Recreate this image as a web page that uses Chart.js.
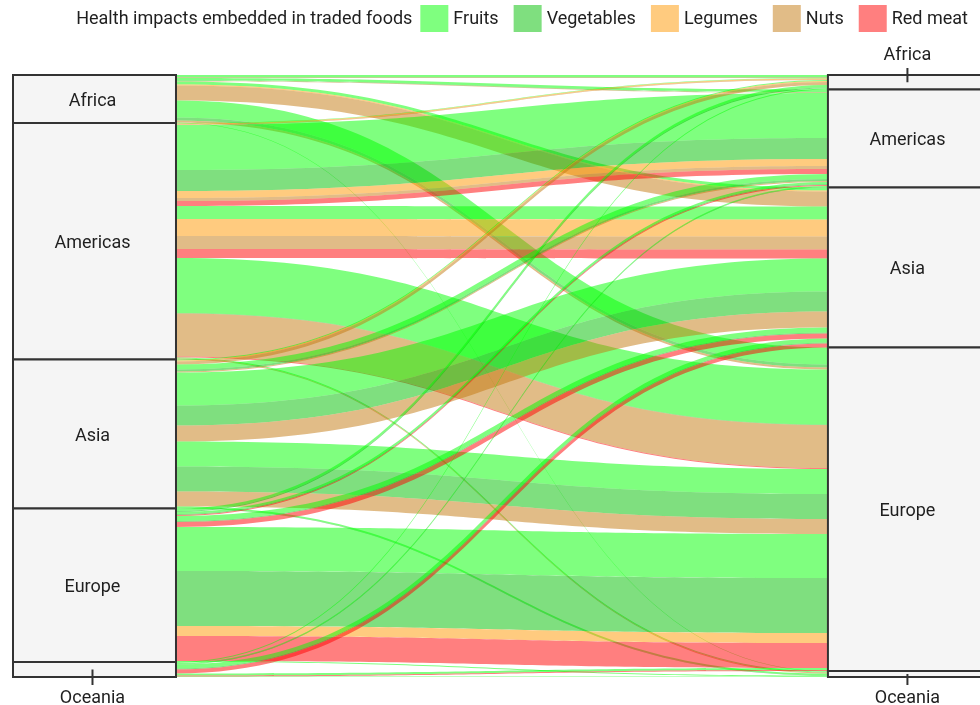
<!DOCTYPE html>
<html>
<head>
<meta charset="utf-8">
<title>Health impacts embedded in traded foods</title>
<script src="https://cdn.jsdelivr.net/npm/chart.js@4.4.1/dist/chart.umd.min.js"></script>
<style>
  html, body { margin: 0; padding: 0; background: #ffffff; }
  #wrap { width: 980px; height: 705px; }
</style>
</head>
<body>
<div id="wrap"><canvas id="chart" width="980" height="705"></canvas></div>
<script>
// Regions appear on both axes: exporters on the left, importers on the right
const regions = ['Africa', 'Americas', 'Asia', 'Europe', 'Oceania'];
const foods = ['Fruits', 'Vegetables', 'Legumes', 'Nuts', 'Red meat'];
const foodColors = [
  'rgba(0,255,0,0.5)',
  'rgba(0,192,0,0.5)',
  'rgba(255,152,0,0.5)',
  'rgba(195,122,15,0.5)',
  'rgba(255,0,0,0.5)'
];
const legendTitle = 'Health impacts embedded in traded foods';

// Rows: exporting region, columns: importing region (both in `regions` order)
const fruits = [
  [2,   2.5, 3,  17, 0.5],
  [0.5, 45,  13, 55, 1],
  [1,   5,   33, 25, 1.5],
  [2.5, 2,   5,  44, 1],
  [1,   1,   4,  2,  0.5]
];
const vegetables = [
  [0.5, 0.5, 0,  3,   0],
  [0,   21,  0,  0.5, 0],
  [0,   2,   20, 25,  0.5],
  [1,   1,   1,  55,  0],
  [0,   0.5, 1,  0,   0]
];
const legumes = [
  [0, 0, 1,  0,  0],
  [1, 7, 17, 0,  0],
  [1, 0, 0,  0,  0],
  [0, 0, 0,  10, 0],
  [0, 0, 0,  0,  0]
];
const nuts = [
  [0.5, 0.5, 15, 2,  0],
  [0.5, 3,   13, 43, 1],
  [3,   1,   16, 15, 0],
  [0,   0,   0,  0,  0],
  [0,   0,   0,  0,  0]
];
const redMeat = [
  [0, 0, 0, 0,  0],
  [0, 5, 9, 1,  0],
  [0, 0, 0, 0,  0],
  [0, 1, 5, 25, 0],
  [0, 0, 4, 1,  0]
];

const byFood = [fruits, vegetables, legumes, nuts, redMeat];

// Axis positions on the x scale: each stratum column is one unit wide
const leftAxis = [0, 1];
const rightAxis = [5, 6];

// Flat list of every exporter -> importer -> food flow
const flows = [];
regions.forEach((_, o) => regions.forEach((_, d) => foods.forEach((_, f) => {
  const v = byFood[f][o][d];
  if (v > 0) flows.push({ o, d, f, v });
})));
const total = flows.reduce((s, fl) => s + fl.v, 0);

// Stack the flows inside each stratum: left grouped by importer, right by exporter
function stackSide(groupKey, innerKey) {
  const strata = [];
  let cursor = 0;
  regions.forEach((_, r) => {
    const start = cursor;
    regions.forEach((_, k) => foods.forEach((_, f) => {
      flows.filter(fl => fl[groupKey] === r && fl[innerKey] === k && fl.f === f).forEach(fl => {
        fl[groupKey + 'Pos'] = [cursor, cursor + fl.v];
        cursor += fl.v;
      });
    }));
    strata.push({ name: regions[r], from: start, to: cursor });
  });
  return strata;
}
const leftStrata = stackSide('o', 'd');
const rightStrata = stackSide('d', 'o');

const FONT = 'Roboto, "Liberation Sans", sans-serif';

const alluvialPlugin = {
  id: 'alluvial',
  beforeDatasetsDraw(chart) {
    const { ctx, scales: { x, y } } = chart;
    const xa = x.getPixelForValue(leftAxis[1]);
    const xb = x.getPixelForValue(rightAxis[0]);
    const xm = (xa + xb) / 2;

    ctx.save();
    flows.forEach(fl => {
      const a0 = y.getPixelForValue(fl.oPos[0]);
      const a1 = y.getPixelForValue(fl.oPos[1]);
      const b0 = y.getPixelForValue(fl.dPos[0]);
      const b1 = y.getPixelForValue(fl.dPos[1]);
      ctx.beginPath();
      ctx.moveTo(xa, a0);
      ctx.bezierCurveTo(xm, a0, xm, b0, xb, b0);
      ctx.lineTo(xb, b1);
      ctx.bezierCurveTo(xm, b1, xm, a1, xa, a1);
      ctx.closePath();
      ctx.fillStyle = foodColors[fl.f];
      ctx.fill();
    });

    const drawStrata = (strata, axis) => {
      const x0 = x.getPixelForValue(axis[0]);
      const x1 = x.getPixelForValue(axis[1]);
      const cx = (x0 + x1) / 2 - 2;
      strata.forEach(s => {
        const t = y.getPixelForValue(s.from);
        const b = y.getPixelForValue(s.to);
        ctx.fillStyle = '#f5f5f5';
        ctx.fillRect(x0, t, x1 - x0, b - t);
        ctx.strokeStyle = '#333333';
        ctx.lineWidth = 2;
        ctx.strokeRect(x0, t, x1 - x0, b - t);
      });
      strata.forEach((s, i) => {
        const t = y.getPixelForValue(s.from);
        const b = y.getPixelForValue(s.to);
        const mid = (t + b) / 2;
        ctx.fillStyle = '#1f1f1f';
        ctx.font = '18px ' + FONT;
        ctx.textAlign = 'center';
        ctx.textBaseline = 'middle';
        if (b - t >= 25) {
          ctx.fillText(s.name, cx, mid + 2);
        } else {
          // small strata get their label outside with a short leader tick
          const above = i === 0;
          const edge = above ? y.getPixelForValue(0) - 7 : y.getPixelForValue(total) + 8;
          ctx.strokeStyle = '#333333';
          ctx.lineWidth = 2;
          ctx.beginPath();
          ctx.moveTo(cx, mid);
          ctx.lineTo(cx, edge);
          ctx.stroke();
          ctx.fillText(s.name, cx, above ? edge - 13 : edge + 13);
        }
      });
    };
    drawStrata(leftStrata, leftAxis);
    drawStrata(rightStrata, rightAxis);
    ctx.restore();
  },
  afterDraw(chart) {
    // Single-row legend with its title inline, right aligned
    const { ctx } = chart;
    const items = chart.data.datasets;
    ctx.save();
    ctx.font = '18px ' + FONT;
    ctx.textBaseline = 'middle';
    ctx.textAlign = 'left';
    const boxW = 28, boxH = 27, boxTop = 5, textGap = 5, itemGap = 15;
    const cy = boxTop + boxH / 2 + 1;
    let xr = 968;
    for (let i = items.length - 1; i >= 0; i--) {
      const w = ctx.measureText(items[i].label).width;
      const tx = xr - w;
      const bx = tx - textGap - boxW;
      ctx.fillStyle = items[i].backgroundColor;
      ctx.fillRect(bx, boxTop, boxW, boxH);
      ctx.fillStyle = '#1f1f1f';
      ctx.fillText(items[i].label, tx, cy);
      xr = bx - itemGap;
    }
    ctx.textAlign = 'right';
    ctx.fillText(legendTitle, xr + itemGap - 8, cy);
    ctx.restore();
  }
};

new Chart(document.getElementById('chart'), {
  type: 'scatter',
  data: {
    datasets: foods.map((name, i) => ({
      label: name,
      data: [],
      backgroundColor: foodColors[i]
    }))
  },
  options: {
    responsive: false,
    devicePixelRatio: 1,
    animation: false,
    layout: { padding: { left: 13, right: 0, top: 75, bottom: 28 } },
    scales: {
      x: { type: 'linear', min: 0, max: 5.933, display: false },
      y: { type: 'linear', min: 0, max: total, reverse: true, display: false }
    },
    plugins: {
      legend: { display: false },
      tooltip: { enabled: false }
    }
  },
  plugins: [alluvialPlugin]
});
</script>
</body>
</html>
